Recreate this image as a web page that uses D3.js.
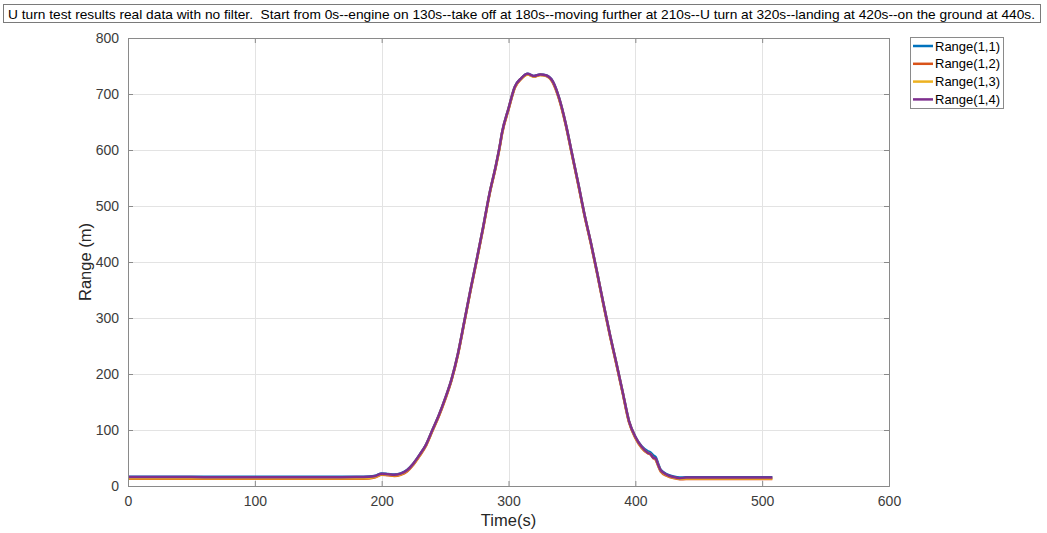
<!DOCTYPE html>
<html>
<head>
<meta charset="utf-8">
<script src="https://cdn.jsdelivr.net/npm/d3@7"></script>
<style>
  html, body { margin: 0; padding: 0; background: #fff; }
  svg { display: block; }
  text { font-family: "Liberation Sans", Arial, sans-serif; }
</style>
</head>
<body>
<svg id="chart" width="1047" height="533"></svg>
<script>
// ---------------- data ----------------
const titleText = "U turn test results real data with no filter.  Start from 0s--engine on 130s--take off at 180s--moving further at 210s--U turn at 320s--landing at 420s--on the ground at 440s.";
const seriesNames = ["Range(1,1)", "Range(1,2)", "Range(1,3)", "Range(1,4)"];
const seriesColors = ["#0072BD", "#D95319", "#EDB120", "#7E2F8E"];
const xTicks = [0, 100, 200, 300, 400, 500, 600];
const yTicks = [0, 100, 200, 300, 400, 500, 600, 700, 800];

const time = [0, 20, 40, 60, 80, 100, 120, 140, 160, 180, 190, 195, 200, 205, 210, 215, 220, 225, 230, 235,
  240, 245, 250, 255, 260, 265, 270, 275, 280, 285, 290, 293, 295, 300, 305, 310, 315, 320, 325, 330,
  335, 340, 345, 350, 355, 360, 365, 370, 375, 380, 385, 390, 395, 400, 405, 410, 412, 414, 416, 418,
  420, 425, 430, 435, 440, 460, 480, 500, 508];

const range11 = [16.5, 16.5, 16.5, 16.3, 16.3, 16.3, 16.3, 16.3, 16.3, 16.5, 17, 18.5, 22.5, 21.5, 20.5, 22.5, 28.5, 40, 56, 74,
  100, 126, 156, 190, 235, 292, 350, 405, 462, 522, 572, 606, 632, 674, 713, 728, 736, 732, 735, 733,
  722, 692, 648, 594, 540, 484, 434, 380, 324, 270, 220, 168, 116, 88, 71, 62, 60, 55, 52, 40,
  29, 21, 17, 15, 15.5, 15.5, 15.5, 15.5, 15.5];
const range12 = [13, 13, 13, 12.8, 12.8, 12.8, 12.8, 12.8, 12.8, 13, 13.5, 15.5, 20, 19, 18, 20, 26, 38, 54, 72,
  98, 124, 154, 188, 233, 290, 348, 403, 460, 520, 570, 604, 630, 672, 711, 727, 735, 731, 734, 732,
  720, 690, 646, 592, 538, 482, 432, 378, 322, 268, 218, 166, 114, 86, 68, 58, 56, 50, 47, 36,
  26, 18, 14, 12, 12.5, 12.5, 12.5, 12.5, 12.5];
const range13 = [14, 14, 14, 13.8, 13.8, 13.8, 13.8, 13.8, 13.8, 14, 14.5, 16.5, 21, 20, 19, 21, 27, 39, 55, 73,
  99, 125, 155, 189, 234, 291, 349, 404, 461, 521, 571, 605, 631, 673, 712, 727, 735, 731, 734, 732,
  721, 691, 647, 593, 539, 483, 433, 379, 323, 269, 219, 167, 115, 87, 69, 59, 57, 51, 48, 37,
  27, 19, 15, 13, 13.5, 13.5, 13.5, 13.5, 13.5];
const range14 = [16, 16, 16, 15.8, 15.8, 15.8, 15.8, 15.8, 15.8, 16, 16.5, 18, 22, 21, 20, 22, 28, 40, 56, 74,
  100, 126, 156, 190, 235, 292, 350, 405, 462, 522, 572, 606, 632, 674, 713, 728, 736, 732, 735, 733,
  722, 692, 648, 594, 540, 484, 434, 380, 324, 270, 220, 168, 116, 88, 70, 59, 57, 51, 49, 38,
  28, 20, 16, 14, 15, 15, 15, 15, 15];

const allSeries = [range11, range12, range13, range14];

// ---------------- layout ----------------
const svg = d3.select("#chart");
const plot = { left: 128, right: 889, top: 38, bottom: 486 };

const x = d3.scaleLinear().domain([0, 600]).range([plot.left, plot.right]);
const y = d3.scaleLinear().domain([0, 800]).range([plot.bottom, plot.top]);

// title box
svg.append("rect")
  .attr("x", 3.5).attr("y", 4.5).attr("width", 1037).attr("height", 18)
  .attr("fill", "#fff").attr("stroke", "#7a7a7a").attr("stroke-width", 1);
svg.append("text")
  .attr("x", 8).attr("y", 18.5)
  .attr("font-size", 13.5)
  .attr("fill", "#000")
  .attr("textLength", 1027)
  .attr("lengthAdjust", "spacingAndGlyphs")
  .attr("xml:space", "preserve")
  .text(titleText);

// grid
const grid = svg.append("g");
grid.selectAll("line.gx").data(xTicks.slice(1, -1)).join("line")
  .attr("x1", d => Math.round(x(d)) + 0.5).attr("x2", d => Math.round(x(d)) + 0.5)
  .attr("y1", plot.top).attr("y2", plot.bottom)
  .attr("stroke", "#e3e3e3").attr("stroke-width", 1);
grid.selectAll("line.gy").data(yTicks.slice(1, -1)).join("line")
  .attr("y1", d => Math.round(y(d)) + 0.5).attr("y2", d => Math.round(y(d)) + 0.5)
  .attr("x1", plot.left).attr("x2", plot.right)
  .attr("stroke", "#e3e3e3").attr("stroke-width", 1);

// lines
const line = d3.line()
  .x((d, i) => x(time[i]))
  .y(d => y(d))
  .curve(d3.curveMonotoneX);

const lines = svg.append("g");
allSeries.forEach((s, k) => {
  lines.append("path")
    .datum(s)
    .attr("d", line)
    .attr("fill", "none")
    .attr("stroke", seriesColors[k])
    .attr("stroke-width", 2.5)
    .attr("stroke-linejoin", "round");
});

// axes (MATLAB-like: ticks inside, box)
const axisColor = "#8a8a8a";
const tickLen = 5;
const xAxisB = d3.axisBottom(x).tickValues(xTicks).tickSize(-tickLen).tickPadding(10).tickFormat(d3.format("d"));
const xAxisT = d3.axisTop(x).tickValues(xTicks).tickSize(-tickLen).tickFormat("");
const yAxisL = d3.axisLeft(y).tickValues(yTicks).tickSize(-tickLen).tickPadding(9).tickFormat(d3.format("d"));
const yAxisR = d3.axisRight(y).tickValues(yTicks).tickSize(-tickLen).tickFormat("");

function style(g) {
  g.select(".domain").attr("stroke", axisColor);
  g.selectAll(".tick line").attr("stroke", axisColor);
  g.selectAll(".tick text").attr("fill", "#3c3c3c").attr("font-size", 14)
    .attr("font-family", "'Liberation Sans', Arial, sans-serif");
}

svg.append("g").attr("transform", `translate(0,${plot.bottom})`).call(xAxisB).call(style);
svg.append("g").attr("transform", `translate(0,${plot.top})`).call(xAxisT).call(style);
svg.append("g").attr("transform", `translate(${plot.left},0)`).call(yAxisL).call(style);
svg.append("g").attr("transform", `translate(${plot.right},0)`).call(yAxisR).call(style);

// axis labels
svg.append("text")
  .attr("x", (plot.left + plot.right) / 2).attr("y", 526)
  .attr("text-anchor", "middle").attr("font-size", 16.5).attr("fill", "#262626")
  .text("Time(s)");
svg.append("text")
  .attr("transform", `translate(91,${(plot.top + plot.bottom) / 2}) rotate(-90)`)
  .attr("text-anchor", "middle").attr("font-size", 16.5).attr("fill", "#262626")
  .text("Range (m)");

// legend
const legend = svg.append("g");
legend.append("rect")
  .attr("x", 910.5).attr("y", 37.5).attr("width", 93).attr("height", 71)
  .attr("fill", "#fff").attr("stroke", "#8a8a8a");
seriesNames.forEach((name, k) => {
  const yy = 46 + k * 17.8;
  legend.append("line")
    .attr("x1", 913).attr("x2", 933).attr("y1", yy).attr("y2", yy)
    .attr("stroke", seriesColors[k]).attr("stroke-width", 2.5);
  legend.append("text")
    .attr("x", 935).attr("y", yy + 4.5)
    .attr("font-size", 13).attr("fill", "#000")
    .text(name);
});
</script>
</body>
</html>
